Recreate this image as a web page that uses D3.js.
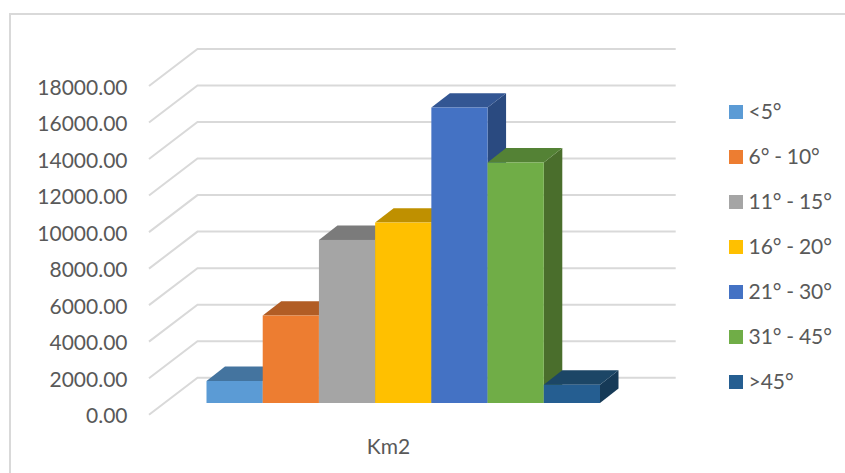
<!DOCTYPE html>
<html>
<head>
<meta charset="utf-8">
<script src="https://cdn.jsdelivr.net/npm/d3@7/dist/d3.min.js"></script>
<style>
html,body{margin:0;padding:0;background:#fff;}
svg{display:block;}
text{font-family:Lato,"Open Sans",sans-serif;fill:#595959;}
</style>
</head>
<body>
<svg id="chart" width="845" height="473"></svg>
<script>
// Area by slope class, in km2
const slopeClasses = ["<5°","6° - 10°","11° - 15°","16° - 20°","21° - 30°","31° - 45°",">45°"];
const areaKm2 = [1205,4790,8930,9880,16180,13170,1000];
const frontColors = ["#5b9bd5","#ed7d31","#a5a5a5","#ffc000","#4472c4","#70ad47","#255e91"];
const topColors = ["#44749f","#b15d25","#7b7b7b","#bf9000","#335693","#548235","#1c4666"];
const sideColors = ["#3c668c","#9c5220","#6e6e6e","#a87f00","#2a4a80","#4a6e2c","#163a57"];
const yTicks = [0,2000,4000,6000,8000,10000,12000,14000,16000,18000];
const categoryLabel = "Km2";

const svg = d3.select("#chart");

// Chart frame
svg.append("rect").attr("x",10).attr("y",14).attr("width",840).attr("height",470)
  .attr("fill","#fff").attr("stroke","#d9d9d9").attr("stroke-width",2);

// Value scale on the axis plane, and the same scale at the plane of the bar fronts
const yAxis = d3.scaleLinear().domain([0,18000]).range([414.7,86]);
const yBar = d3.scaleLinear().domain([0,18000]).range([403,74.3]);
const x = d3.scaleBand().domain(slopeClasses).range([206.5,600]).padding(0);

// Oblique offsets of the back wall and of the bar depth
const wall = {dx:48.5, dy:-37, right:675.7, left:149};
const depth = {dx:18.5, dy:-14.4};

// Side wall and back wall gridlines
const grid = svg.append("g").attr("fill","none").attr("stroke","#d9d9d9").attr("stroke-width",2);
grid.selectAll("polyline").data(yTicks).join("polyline")
  .attr("points", d => {
    const y = yAxis(d);
    return [[wall.left,y],[wall.left+wall.dx,y+wall.dy],[wall.right,y+wall.dy]].join(" ");
  });

// Value labels
svg.append("g").selectAll("text").data(yTicks).join("text")
  .attr("x",127.5).attr("y",d=>yAxis(d)+8.7)
  .attr("text-anchor","end").attr("font-size",21)
  .text(d=>d3.format(".2f")(d));

// Bars, painted left to right so each front covers its neighbour's side
const bars = svg.append("g").selectAll("g").data(slopeClasses.map((name,i)=>({name,i,value:areaKm2[i]}))).join("g");
const poly = pts => pts.join(" ");
bars.each(function(d){
  const g = d3.select(this);
  const x0 = x(d.name), x1 = x0 + x.bandwidth();
  const yt = yBar(d.value), yb = yBar(0);
  g.append("polygon").attr("fill",sideColors[d.i])
    .attr("points",poly([[x1,yt],[x1+depth.dx,yt+depth.dy],[x1+depth.dx,yb+depth.dy],[x1,yb]]));
  g.append("polygon").attr("fill",topColors[d.i])
    .attr("points",poly([[x0,yt],[x0+depth.dx,yt+depth.dy],[x1+depth.dx,yt+depth.dy],[x1,yt]]));
  g.append("rect").attr("fill",frontColors[d.i])
    .attr("x",x0).attr("y",yt).attr("width",x1-x0).attr("height",yb-yt);
});

// Category label
svg.append("text").attr("x",388.5).attr("y",453.5).attr("text-anchor","middle")
  .attr("font-size",21).text(categoryLabel);

// Legend
const legend = svg.append("g").selectAll("g").data(slopeClasses).join("g")
  .attr("transform",(d,i)=>`translate(729,${105+i*45})`);
legend.append("rect").attr("width",14).attr("height",14).attr("fill",(d,i)=>frontColors[i]);
legend.append("text").attr("x",19.5).attr("y",14).attr("font-size",21)
  .attr("word-spacing",-0.6).text(d=>d);
</script>
</body>
</html>
